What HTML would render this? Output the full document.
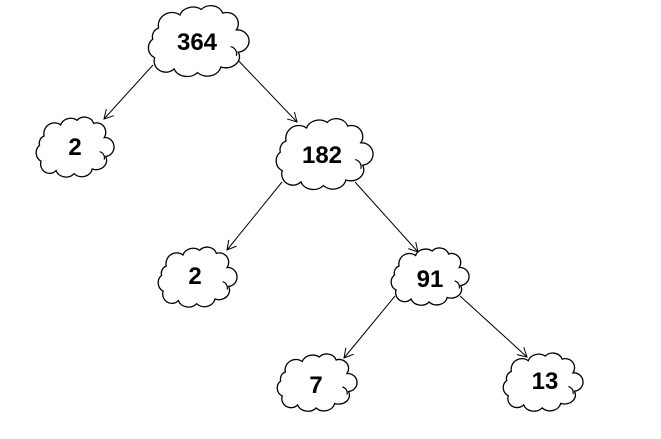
<!DOCTYPE html>
<html><head><meta charset="utf-8"><style>
html,body{margin:0;padding:0;background:#fff;}
svg{display:block;}
symbol,use{overflow:visible;}
text{font-family:"Liberation Sans",Arial,sans-serif;font-weight:bold;font-size:24px;fill:#000;text-anchor:middle;}
</style></head><body>
<svg width="661" height="439" viewBox="0 0 661 439" xmlns="http://www.w3.org/2000/svg">
<defs>
<symbol id="c" viewBox="-2 -4 109 84" preserveAspectRatio="none" overflow="visible">
<path d="M14 24 a14 14 0 0 1 22 -14 a14 12 0 0 1 22 -6 a13 12 0 0 1 22 4 a12 12 0 0 1 14 18 a12 12 0 0 1 2 24 a14 12 0 0 1 -18 16 a14 12 0 0 1 -24 6 a14 12 0 0 1 -24 -4 a12 12 0 0 1 -20 -12 a12 12 0 0 1 -2 -20 a10 10 0 0 1 6 -12 z" fill="#fff" stroke="#000" stroke-width="1.3" vector-effect="non-scaling-stroke"/>
<path d="M88 44 a8 8 0 0 1 6 10" fill="none" stroke="#000" stroke-width="1.2" vector-effect="non-scaling-stroke"/>
</symbol>
<marker id="a" markerWidth="12" markerHeight="12" refX="10" refY="6" orient="auto" markerUnits="userSpaceOnUse">
<path d="M1 1 L10 6 L1 11" fill="none" stroke="#000" stroke-width="1"/>
</marker>
</defs>
<g stroke="#000" stroke-width="1" fill="none">
<line x1="153" y1="65" x2="104" y2="119" marker-end="url(#a)"/>
<line x1="235" y1="57" x2="297" y2="122" marker-end="url(#a)"/>
<line x1="282" y1="182" x2="227" y2="250" marker-end="url(#a)"/>
<line x1="355" y1="182" x2="418" y2="252" marker-end="url(#a)"/>
<line x1="395" y1="296" x2="344" y2="358" marker-end="url(#a)"/>
<line x1="460" y1="296" x2="527" y2="357" marker-end="url(#a)"/>
</g>
<use href="#c" x="143" y="2" width="106" height="78"/>
<use href="#c" x="271" y="115" width="102" height="78"/>
<use href="#c" x="32" y="114" width="82" height="66"/>
<use href="#c" x="154" y="244" width="83" height="66"/>
<use href="#c" x="387" y="245" width="82" height="63"/>
<use href="#c" x="273" y="351" width="84" height="63"/>
<use href="#c" x="499" y="350" width="84" height="64"/>
<text x="197" y="50">364</text>
<text x="322" y="163">182</text>
<text x="75" y="155">2</text>
<text x="195" y="284">2</text>
<text x="430" y="287">91</text>
<text x="316" y="393">7</text>
<text x="545" y="389">13</text>
</svg>
</body></html>
